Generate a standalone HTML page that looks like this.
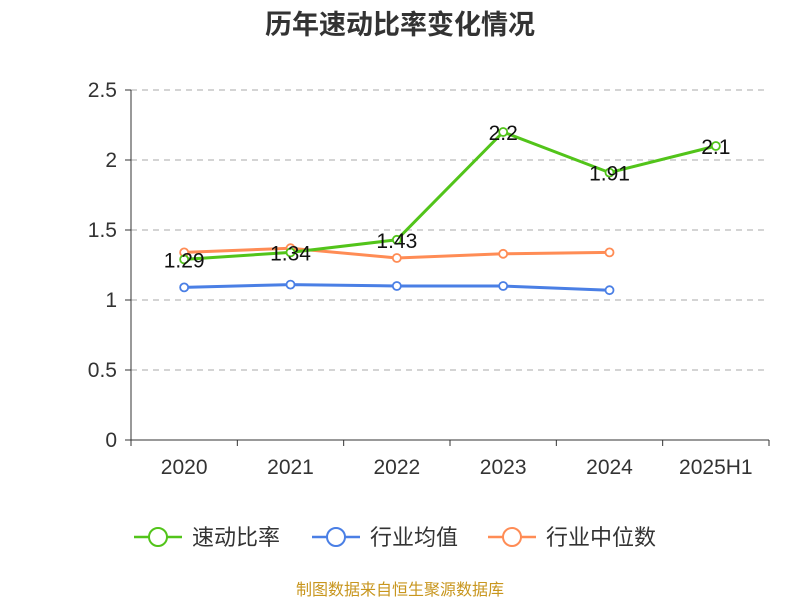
<!DOCTYPE html>
<html><head><meta charset="utf-8"><style>
body{margin:0;background:#fff;font-family:"Liberation Sans","Noto Sans CJK SC",sans-serif}
svg text{font-family:"Liberation Sans","Noto Sans CJK SC",sans-serif}
</style></head><body>
<svg id="c" width="800" height="600">
<text x="400" y="34" text-anchor="middle" font-size="27" font-weight="bold" fill="#333">历年速动比率变化情况</text>
<g id="grid"></g><g id="axes"></g><g id="series"></g>
<g>
<g><line x1="134" y1="537" x2="182" y2="537" stroke="#52c41a" stroke-width="2.5"/><circle cx="158" cy="537" r="9" fill="#fff" stroke="#52c41a" stroke-width="2"/><text x="192" y="545" font-size="22" fill="#333">速动比率</text></g>
<g><line x1="312" y1="537" x2="360" y2="537" stroke="#4a7fe5" stroke-width="2.5"/><circle cx="336" cy="537" r="9" fill="#fff" stroke="#4a7fe5" stroke-width="2"/><text x="370" y="545" font-size="22" fill="#333">行业均值</text></g>
<g><line x1="488" y1="537" x2="536" y2="537" stroke="#ff8c55" stroke-width="2.5"/><circle cx="512" cy="537" r="9" fill="#fff" stroke="#ff8c55" stroke-width="2"/><text x="546" y="545" font-size="22" fill="#333">行业中位数</text></g>
</g>
<text x="400" y="595" text-anchor="middle" font-size="16" fill="#c8961e">制图数据来自恒生聚源数据库</text>
</svg>
<script>
const categories=["2020","2021","2022","2023","2024","2025H1"];
const quickRatio=[1.29,1.34,1.43,2.2,1.91,2.1];
const industryAvg=[1.09,1.11,1.10,1.10,1.07];
const industryMedian=[1.34,1.37,1.30,1.33,1.34];
const yTicks=[0,0.5,1,1.5,2,2.5];
const NS="http://www.w3.org/2000/svg";
const x0=131,x1=769,y0=440,yTop=90;
const bw=(x1-x0)/categories.length;
const X=i=>x0+bw*(i+0.5);
const Y=v=>y0-(v/2.5)*(y0-yTop);
function mk(tag,attrs,parent,text){const e=document.createElementNS(NS,tag);for(const k in attrs)e.setAttribute(k,attrs[k]);if(text!==undefined)e.textContent=text;parent.appendChild(e);return e;}
const grid=document.getElementById('grid'),axes=document.getElementById('axes'),ser=document.getElementById('series');
yTicks.forEach(t=>{
 if(t>0){const l=mk('line',{x1:x0,x2:x1,y1:Y(t),y2:Y(t),stroke:'#bbb','stroke-dasharray':'6,5','stroke-width':1.2},grid);
 
 }
 const tx=mk('text',{x:x0-14,y:Y(t)+7,'text-anchor':'end','font-size':21,fill:'#333'},axes,String(t));
 
 
 mk('line',{x1:x0-6,x2:x0,y1:Y(t),y2:Y(t),stroke:'#333'},axes);
});
mk('line',{x1:x0,x2:x0,y1:yTop,y2:y0,stroke:'#333'},axes);
mk('line',{x1:x0,x2:x1,y1:y0,y2:y0,stroke:'#333'},axes);
for(let i=0;i<=categories.length;i++)mk('line',{x1:x0+bw*i,x2:x0+bw*i,y1:y0,y2:y0+6,stroke:'#333'},axes);
categories.forEach((c,i)=>{const t=mk('text',{x:X(i),y:474,'text-anchor':'middle','font-size':21,fill:'#333'},axes,c);
 
 });
function line(vals,color,name,labels){
 const g=mk('g',{},ser);
 
 
 mk('polyline',{points:vals.map((v,i)=>X(i)+','+Y(v)).join(' '),fill:'none',stroke:color,'stroke-width':3},g);
 vals.forEach((v,i)=>{const p=mk('circle',{cx:X(i),cy:Y(v),r:4,fill:'#fff',stroke:color,'stroke-width':1.8},g);
  
  
  if(labels){const t=mk('text',{x:X(i),y:Y(v)+8,'text-anchor':'middle','font-size':21,fill:'#111'},g,String(v));
  
  }});
}
line(industryAvg,'#4a7fe5','industry-average-line',false);
line(industryMedian,'#ff8c55','industry-median-line',false);
line(quickRatio,'#52c41a','quick-ratio-line',true);
</script>
</body></html>
